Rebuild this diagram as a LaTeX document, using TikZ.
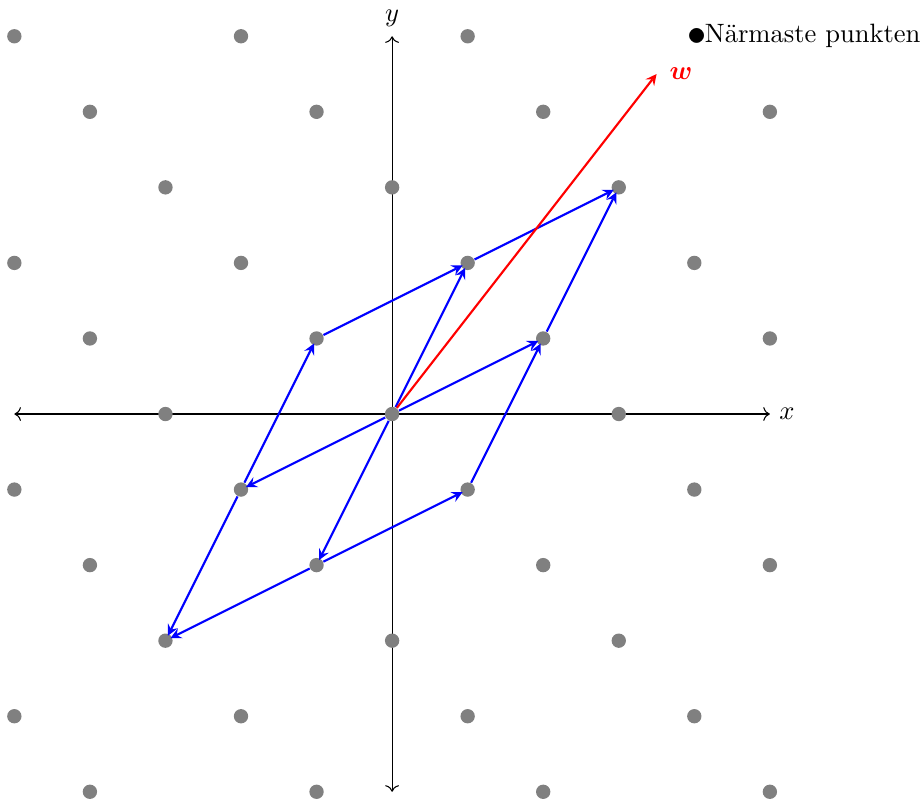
\documentclass[tikz,border=0pt]{standalone}
\usepackage{amsmath}
\usepackage{amssymb}
\usepackage{bm}
\usepackage{tikz}
\usetikzlibrary{arrows.meta, positioning, calc}

\begin{document}
\begin{tikzpicture}[
        dot/.style={fill=gray, circle, inner sep=0pt, minimum size=0.19cm},
        basis/.style={-stealth, thick, blue, shorten >=-0.8pt},
        target/.style={-stealth, thick, red},
        axis/.style={<->}
    ]
        \useasboundingbox (-5.19,-5.11) rectangle (7.04,5.48);

        % Axes
        \coordinate (xmin) at (-5,0);
        \coordinate (xmax) at (5,0);
        \coordinate (ymin) at (0,-5);
        \coordinate (ymax) at (0,5);
        \draw[axis] (xmin) -- (xmax) node[right] (xlabel) {$x$};
        \draw[axis] (ymin) -- (ymax) node[above] (ylabel) {$y$};

        % Lattice points
        \foreach \i in {-5,...,5} {
            \foreach \j in {-5,...,5} {
                \pgfmathtruncatemacro{\r}{mod(\i+\j+30,3)}
                \ifnum\r=0
                    \ifnum\i=4 \ifnum\j=5 \else
                        \node[dot] (p\i_\j) at (\i,\j) {};
                    \fi \else
                        \node[dot] (p\i_\j) at (\i,\j) {};
                    \fi
                \fi
            }
        }

        % Basis vectors
        \draw[basis] (p0_0) -- (p1_2);
        \draw[basis] (p0_0) -- (p2_1);
        \draw[basis] (p0_0) -- (p-1_-2);
        \draw[basis] (p0_0) -- (p-2_-1);
        \draw[basis] (p-1_1) -- (p1_2);
        \draw[basis] (p-2_-1) -- (p-1_1);
        \draw[basis] (p1_2) -- (p3_3);
        \draw[basis] (p2_1) -- (p3_3);
        \draw[basis] (p1_-1) -- (p2_1);
        \draw[basis] (p-1_-2) -- (p1_-1);
        \draw[basis] (p-1_-2) -- (p-3_-3);
        \draw[basis] (p-2_-1) -- (p-3_-3);

        % Target vector
        \coordinate (w) at (3.5,4.5);
        \draw[target] (p0_0) -- (w);
        \node[right=0.05cm of w, text=red] (wlabel) {$\bm{w}$};

        % Legend
        \node[anchor=west] (legend) at (3.78,5) {\raisebox{-0.8pt}{\Large$\bullet$}\kern-0.5pt N\"armaste punkten};
    \end{tikzpicture}
\end{document}
